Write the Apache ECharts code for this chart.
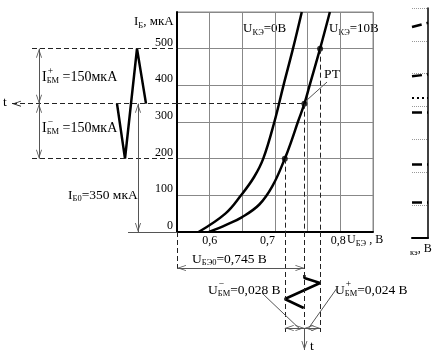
<!DOCTYPE html>
<html>
<head>
<meta charset="utf-8">
<script src="https://cdn.jsdelivr.net/npm/echarts@6/dist/echarts.min.js"></script>
<style>
  html, body { margin: 0; padding: 0; background: #fff; }
  #chart { width: 441px; height: 354px; }
</style>
</head>
<body>
<div id="chart"></div>
<script>
// input characteristic, U_KE = 0 V
const uBE_k0 = [0.583, 0.624, 0.648, 0.668, 0.682, 0.699, 0.713, 0.7275, 0.741];
const iB_k0 = [0, 50, 100, 150, 200, 300, 400, 500, 600];
// input characteristic, U_KE = 10 V
const uBE_k10 = [0.599, 0.626, 0.649, 0.676, 0.696, 0.715, 0.7255, 0.735, 0.745, 0.753, 0.769, 0.784];
const iB_k10 = [0, 20, 40, 75, 125, 200, 250, 300, 350, 400, 500, 600];
// operating point and swing ends
const rtU = [0.715, 0.745, 0.769];
const rtI = [200, 350, 500];
// input current signal (time runs to the left)
const inT = [31, 40, 52, 60];
const inI = [350, 500, 200, 350];
// output voltage signal (time runs down)
const outU = [0.745, 0.745, 0.769, 0.715, 0.744];
const outT = [43, 46, 51, 67, 76];
// fragment of the output family on the right edge
const famStart = [6.42, 4.92, 3.83, 2.25, 1.1];
const famEnd = [6.55, 4.98, 3.83, 2.25, 1.1];
const famDotted = 4.26;

const FONT = '"Liberation Serif", "Times New Roman", serif';
const ctx = document.createElement('canvas').getContext('2d');
function textWidth(s, size) {
  ctx.font = size + 'px ' + FONT;
  return ctx.measureText(s).width;
}
function txt(x, y, s, size) {
  return {
    type: 'text', x: x, y: y, silent: true,
    style: {
      text: s, font: size + 'px ' + FONT, fill: '#000',
      textAlign: 'left', align: 'left', textVerticalAlign: 'middle', verticalAlign: 'middle'
    }
  };
}
// parts: plain strings or {sub, sup}
function label(x, y, parts, size) {
  size = size || 13.5;
  const small = 8.5;
  const els = [];
  let cx = x;
  parts.forEach(p => {
    if (typeof p === 'string') {
      els.push(txt(cx, y, p, size));
      cx += textWidth(p, size);
    } else {
      let w = 0;
      if (p.sub) {
        els.push(txt(cx, y + 4, p.sub, small));
        w = Math.max(w, textWidth(p.sub, small));
      }
      if (p.sup) {
        els.push(txt(cx + 1, y - 6, p.sup, small + 1));
        w = Math.max(w, textWidth(p.sup, small + 1) + 1);
      }
      cx += w;
    }
  });
  return els;
}

const zip = (a, b) => a.map((v, i) => [v, b[i]]);
// open arrow head, tip at the centre of its box so it ends on the line end
const head = 'path://M5,-10M0,10L5,0L10,10L8.6,10L5,2.8L1.4,10Z';
function seg(a, b, arrows) {
  return [
    { coord: a, symbol: arrows && arrows[0] ? head : 'none' },
    { coord: b, symbol: arrows && arrows[1] ? head : 'none' }
  ];
}
function marks(xi, yi, lines, style) {
  return {
    type: 'line', xAxisIndex: xi, yAxisIndex: yi, data: [], clip: false, silent: true,
    markLine: {
      silent: true, animation: false, symbolSize: [6, 18],
      label: { show: false }, emphasis: { disabled: true },
      lineStyle: style, data: lines
    }
  };
}
const dash = { color: '#222', width: 1, type: [5, 3] };
const thin = { color: '#555', width: 1, type: 'solid' };
const bold = { color: '#000', width: 2.5 };

const chart = echarts.init(document.getElementById('chart'));

chart.setOption({
  animation: false,
  backgroundColor: '#fff',
  grid: [
    { left: 177, top: 12, width: 196, height: 220, show: true, borderColor: '#888', borderWidth: 1 },
    { left: 0, top: 12, width: 177, height: 220 },
    { left: 177, top: 232, width: 196, height: 122 },
    { left: 412, top: 8, width: 16, height: 230 }
  ],
  xAxis: [
    {
      gridIndex: 0, type: 'value', min: 0.55, max: 0.85, interval: 0.05,
      axisLine: { onZero: false, lineStyle: { color: '#000', width: 2 } },
      axisTick: { show: false },
      splitLine: { show: true, lineStyle: { color: '#888', width: 1 } },
      axisLabel: {
        margin: 3, color: '#000', fontSize: 12, fontFamily: FONT,
        formatter: v => {
          const k = Math.round(v * 100);
          if (k === 60) return '0,6';
          if (k === 70) return '{l|0,7}';
          if (k === 80) return '{m|0,8}';
          return '';
        },
        rich: {
          l: { fontSize: 12, fontFamily: FONT, color: '#000', padding: [0, 15, 0, 0] },
          m: { fontSize: 12, fontFamily: FONT, color: '#000', padding: [0, 4, 0, 0] }
        }
      }
    },
    { gridIndex: 1, type: 'value', min: 0, max: 177, inverse: true, show: false },
    { gridIndex: 2, type: 'value', min: 0.55, max: 0.85, show: false },
    {
      gridIndex: 3, type: 'value', min: 0, max: 1,
      axisLine: { lineStyle: { color: '#000', width: 2 } },
      axisTick: { show: false }, axisLabel: { show: false }, splitLine: { show: false }
    }
  ],
  yAxis: [
    {
      gridIndex: 0, type: 'value', min: 0, max: 600, interval: 100,
      axisLine: { show: true, onZero: false, lineStyle: { color: '#000', width: 2 } },
      axisTick: { show: false },
      splitLine: { show: true, lineStyle: { color: '#888', width: 1 } },
      axisLabel: {
        margin: 4, color: '#000', fontSize: 12, fontFamily: FONT, verticalAlign: 'bottom',
        formatter: v => (v === 600 ? '' : String(v))
      }
    },
    { gridIndex: 1, type: 'value', min: 0, max: 600, show: false },
    { gridIndex: 2, type: 'value', min: 0, max: 122, inverse: true, show: false },
    {
      gridIndex: 3, type: 'value', min: 0, max: 7, interval: 1, position: 'right',
      axisLine: { show: true, onZero: false, lineStyle: { color: '#000', width: 1.5 } },
      axisTick: { show: false }, axisLabel: { show: false },
      splitLine: { show: true, lineStyle: { color: '#999', type: 'dotted' } }
    }
  ],
  series: [
    {
      name: 'U_KE=0', type: 'line', xAxisIndex: 0, yAxisIndex: 0, data: zip(uBE_k0, iB_k0),
      smooth: 0.4, symbol: 'none', lineStyle: bold, silent: true
    },
    {
      name: 'U_KE=10', type: 'line', xAxisIndex: 0, yAxisIndex: 0, data: zip(uBE_k10, iB_k10),
      smooth: 0.4, symbol: 'none', lineStyle: bold, silent: true
    },
    {
      type: 'scatter', xAxisIndex: 0, yAxisIndex: 0, data: zip(rtU, rtI),
      symbolSize: 6, itemStyle: { color: '#000' }, silent: true
    },
    marks(0, 0, [
      seg([0.55, rtI[1]], [rtU[1], rtI[1]]),
      seg([rtU[0], rtI[0]], [rtU[0], 0]),
      seg([rtU[1], rtI[1]], [rtU[1], 0]),
      seg([rtU[2], rtI[2]], [rtU[2], 0])
    ], dash),
    marks(0, 0, [seg([0.749, 360], [0.7796, 409])], thin),

    {
      type: 'line', xAxisIndex: 1, yAxisIndex: 1, data: zip(inT, inI),
      symbol: 'none', lineStyle: bold, silent: true
    },
    marks(1, 1, [
      seg([145, 500], [0, 500]),
      seg([165, 350], [0, 350], [true, false]),
      seg([145, 200], [0, 200])
    ], dash),
    marks(1, 1, [
      seg([138, 500], [138, 350], [true, true]),
      seg([138, 350], [138, 200], [true, true]),
      seg([39, 350], [39, 0], [true, true]),
      seg([49, 0], [0, 0])
    ], thin),

    {
      type: 'line', xAxisIndex: 2, yAxisIndex: 2, data: zip(outU, outT),
      symbol: 'none', lineStyle: bold, silent: true
    },
    marks(2, 2, [
      seg([0.55, 0], [0.55, 40]),
      seg([rtU[0], 0], [rtU[0], 100]),
      seg([rtU[1], 0], [rtU[1], 96]),
      seg([rtU[2], 0], [rtU[2], 100])
    ], dash),
    marks(2, 2, [
      seg([0.55, 36], [rtU[1], 36], [true, true]),
      seg([rtU[0], 96], [rtU[1], 96], [true, true]),
      seg([rtU[1], 96], [rtU[2], 96], [true, true]),
      seg([rtU[1], 96], [rtU[1], 118], [false, true]),
      seg([0.680, 61], [0.738, 97]),
      seg([0.795, 56], [0.7505, 97])
    ], thin),

    marks(3, 3, famStart.map((v, i) => seg([0, v], [1, famEnd[i]])), bold),
    marks(3, 3, [seg([0, famDotted], [1, famDotted])], { color: '#000', width: 2, type: [2, 3] })
  ],
  graphic: [].concat(
    label(134, 22, ['I', { sub: 'Б' }, ', мкА'], 13),
    label(243, 29, ['U', { sub: 'КЭ' }, '=0В'], 13),
    label(329, 29, ['U', { sub: 'КЭ' }, '=10В'], 13),
    label(324, 74, ['РТ']),
    label(42, 77, ['I', { sub: 'БМ', sup: '+' }, ' =150мкА'], 14),
    label(42, 128, ['I', { sub: 'БМ', sup: '−' }, ' =150мкА'], 14),
    label(3, 102, ['t']),
    label(68, 195, ['I', { sub: 'Б0' }, '=350 мкА']),
    label(192, 259, ['U', { sub: 'БЭ0' }, '=0,745 В']),
    label(208, 290, ['U', { sub: 'БМ', sup: '−' }, '=0,028 В']),
    label(335, 290, ['U', { sub: 'БМ', sup: '+' }, '=0,024 В']),
    label(310, 346, ['t']),
    label(347, 240, ['U', { sub: 'БЭ' }, ' , В'], 12),
    label(410, 249, [{ sub: 'кэ' }, ', В'], 12)
  )
});
</script>
</body>
</html>
